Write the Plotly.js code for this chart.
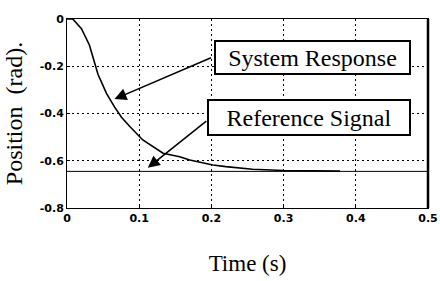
<!DOCTYPE html>
<html>
<head>
<meta charset="utf-8">
<script src="https://cdn.plot.ly/plotly-3.0.1.min.js"></script>
<style>html,body{margin:0;padding:0;background:#fff;}#chart{width:440px;height:281px;}</style>
</head>
<body>
<div id="chart"></div>
<script>
// System response (time in s, position in rad)
const responseTime = [0, 0.008, 0.020, 0.031, 0.043, 0.055, 0.066, 0.0755, 0.087, 0.105, 0.133, 0.156, 0.170, 0.202, 0.220, 0.257, 0.300, 0.378];
const responsePos  = [0, 0, -0.041, -0.11, -0.235, -0.317, -0.373, -0.416, -0.455, -0.512, -0.568, -0.583, -0.597, -0.618, -0.625, -0.636, -0.641, -0.644];
// Reference signal
const referenceTime = [0, 0.5];
const referencePos  = [-0.645, -0.645];
// Ticks
const xTickVals = [0, 0.1, 0.2, 0.3, 0.4, 0.5];
const xTickText = ['0', '0.1', '0.2', '0.3', '0.4', '0.5'];
const yTickVals = [0, -0.2, -0.4, -0.6, -0.8];
const yTickText = ['0', '-0.2', '-0.4', '-0.6', '-0.8'];
// Callout labels and the points they point to
const labelText = ['System Response', 'Reference Signal'];
const labelX = [0.3406, 0.3358];
const labelY = [-0.162, -0.4155];
const arrowX = [0.0658, 0.1119];
const arrowY = [-0.339, -0.630];

const serif = 'Liberation Serif, Times New Roman, serif';

const traces = [
  {x: responseTime, y: responsePos, mode: 'lines', line: {color: '#000', width: 1.6}, hoverinfo: 'skip', showlegend: false},
  {x: referenceTime, y: referencePos, mode: 'lines', line: {color: '#000', width: 1}, hoverinfo: 'skip', showlegend: false}
];

const boxW = [191, 198];
const boxH = [29, 31];
const tailDX = [98, 60];
const tailDY = [-42, -48];
const annotations = [];
for (let i = 0; i < labelText.length; i++) {
  annotations.push({
    x: labelX[i], y: labelY[i], xref: 'x', yref: 'y', text: labelText[i], showarrow: false,
    font: {family: serif, size: 24, color: '#000'},
    bordercolor: '#000', borderwidth: 2, borderpad: 1, bgcolor: '#fff',
    width: boxW[i], height: boxH[i], align: 'center', valign: 'middle'
  });
  annotations.push({
    x: arrowX[i], y: arrowY[i], xref: 'x', yref: 'y', text: '', showarrow: true,
    ax: tailDX[i], ay: tailDY[i], arrowhead: 2, arrowsize: 1.6, arrowwidth: 1.5, arrowcolor: '#000', standoff: 0
  });
}

const tickFont = {family: 'DejaVu Sans, Liberation Sans, sans-serif', size: 11, color: '#000', weight: 700};

const layout = {
  width: 440, height: 281,
  margin: {l: 67, r: 12, t: 19, b: 73},
  paper_bgcolor: '#fff', plot_bgcolor: '#fff',
  showlegend: false,
  xaxis: {
    range: [0, 0.5], tickvals: xTickVals, ticktext: xTickText,
    showgrid: true, gridcolor: '#000', gridwidth: 1, griddash: '2px,3px',
    zeroline: false, showline: true, mirror: true, linecolor: '#000', linewidth: 1,
    ticks: 'inside', ticklen: 3, tickcolor: '#000',
    tickfont: tickFont,
    title: {text: 'Time (s)', font: {family: serif, size: 23, color: '#000'}, standoff: 30},
    automargin: false, fixedrange: true
  },
  yaxis: {
    range: [-0.8, 0], tickvals: yTickVals, ticktext: yTickText,
    showgrid: true, gridcolor: '#000', gridwidth: 1, griddash: '2px,3px',
    zeroline: false, showline: true, mirror: true, linecolor: '#000', linewidth: 1,
    ticks: 'inside', ticklen: 3, tickcolor: '#000',
    tickfont: tickFont,
    title: {text: 'Position&nbsp;&nbsp;(rad).', font: {family: serif, size: 24, color: '#000'}, standoff: 10},
    automargin: false, fixedrange: true
  },
  shapes: [
    {type: 'line', xref: 'paper', yref: 'paper', x0: 1, x1: 1, y0: 0, y1: 1, line: {color: '#000', width: 2.5}}
  ],
  annotations: annotations
};

Plotly.newPlot('chart', traces, layout, {staticPlot: true, displayModeBar: false});
</script>
</body>
</html>
